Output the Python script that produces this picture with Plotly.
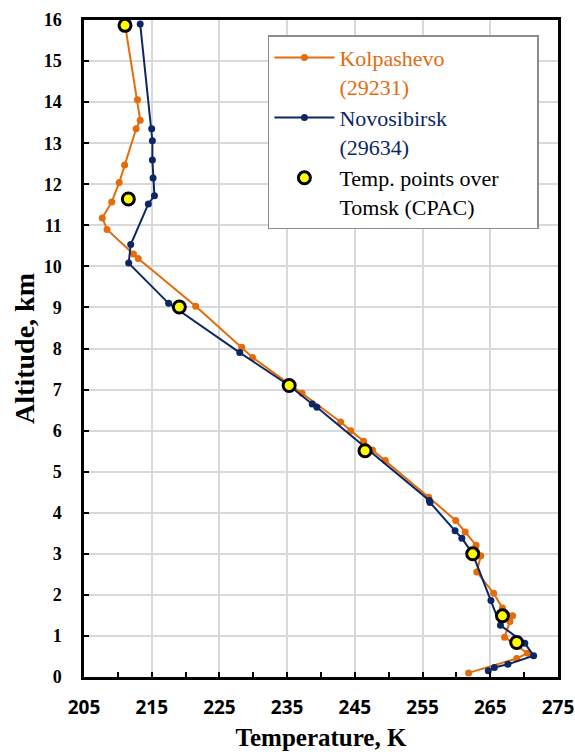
import plotly.graph_objects as go

# ---- data ----
kolp_T = [211.0, 212.9, 213.3, 212.7, 211.0, 210.2, 209.1, 207.7, 208.4, 212.3, 213.0,
          221.5, 228.3, 229.9, 237.2, 242.9, 244.4, 246.3, 247.6, 249.5, 255.9, 259.9,
          261.3, 262.9, 263.6, 263.0, 265.5, 266.8, 268.3, 267.9, 267.1, 270.5, 268.9, 261.8]
kolp_alt = [15.95, 14.06, 13.56, 13.35, 12.47, 12.04, 11.57, 11.18, 10.90, 10.30, 10.19,
            9.03, 8.03, 7.78, 6.91, 6.21, 6.00, 5.74, 5.53, 5.27, 4.38, 3.81,
            3.53, 3.21, 2.95, 2.56, 2.04, 1.68, 1.49, 1.35, 0.97, 0.58, 0.45, 0.10]

novo_T = [213.3, 215.0, 215.1, 215.1, 215.2, 215.4, 214.5, 211.9, 211.6, 217.5, 228.0,
          235.3, 238.7, 239.4, 256.0, 256.1, 259.8, 260.8, 262.4, 265.1, 266.5, 270.1,
          271.4, 267.6, 265.6, 264.7]
novo_alt = [15.90, 13.35, 13.06, 12.59, 12.15, 11.72, 11.52, 10.53, 10.08, 9.10, 7.90,
            7.10, 6.65, 6.57, 4.30, 4.25, 3.56, 3.38, 3.00, 1.86, 1.26, 0.82,
            0.52, 0.31, 0.23, 0.15]

cpac_T = [211.06, 211.55, 219.08, 235.3, 246.5, 262.4, 266.8, 268.9]
cpac_alt = [15.87, 11.64, 9.01, 7.10, 5.51, 3.00, 1.49, 0.84]

x_ticks = [205, 215, 225, 235, 245, 255, 265, 275]
y_ticks = list(range(0, 17))

ORANGE = "#E46C0A"
NAVY = "#0C2764"
SERIF = "Liberation Serif"
PAD = "&nbsp;" * 6

fig = go.Figure()
fig.add_trace(go.Scatter(
    x=kolp_T, y=kolp_alt, mode="lines+markers",
    name=f"<span style='color:{ORANGE}'>Kolpashevo<br>(29231)</span>",
    line=dict(color=ORANGE, width=2), marker=dict(size=7, color=ORANGE)))
fig.add_trace(go.Scatter(
    x=novo_T, y=novo_alt, mode="lines+markers",
    name=f"<span style='color:{NAVY}'>Novosibirsk<br>(29634)</span>",
    line=dict(color=NAVY, width=2), marker=dict(size=7, color=NAVY)))
fig.add_trace(go.Scatter(
    x=cpac_T, y=cpac_alt, mode="markers",
    name="Temp. points over" + PAD + "<br>Tomsk (CPAC)",
    marker=dict(size=12, color="#FFFF00", line=dict(color="black", width=3))))

fig.update_layout(
    width=575, height=754,
    margin=dict(l=84, r=17, t=20, b=77),
    paper_bgcolor="white", plot_bgcolor="white",
    showlegend=True,
    legend=dict(
        x=0.388, y=0.977, xanchor="left", yanchor="top",
        bgcolor="white", bordercolor="#8C8C8C", borderwidth=1.5,
        font=dict(family=SERIF, size=22, color="black"),
        valign="top", tracegroupgap=0, itemwidth=60,
    ),
)

fig.update_xaxes(
    range=[205, 275], tickvals=x_ticks, ticktext=[str(v) for v in x_ticks],
    ticks="inside", ticklen=5, tickwidth=1.5, tickcolor="black",
    minor=dict(dtick=5, tick0=205, ticks="inside", ticklen=5, tickwidth=1.5,
               tickcolor="black", showgrid=False),
    showgrid=True, gridcolor="#D9D9D9", gridwidth=1.5,
    showline=True, linecolor="black", linewidth=2.5, mirror=True,
    tickfont=dict(family="Open Sans", size=19, color="black", weight="bold"),
    ticklabelstandoff=11, automargin=False,
    title=dict(text="<b>Temperature, K</b>",
               font=dict(family=SERIF, size=25, color="black"), standoff=10),
    zeroline=False,
)
fig.update_yaxes(
    range=[0, 16], tickvals=y_ticks, ticktext=[str(v) for v in y_ticks],
    ticks="inside", ticklen=5, tickwidth=1.5, tickcolor="black",
    showgrid=True, gridcolor="#D9D9D9", gridwidth=1.5,
    showline=True, linecolor="black", linewidth=2.5, mirror=True,
    tickfont=dict(family=SERIF, size=18, color="black", weight="bold"),
    ticklabelstandoff=16, automargin=False,
    title=dict(text="<b>Altitude, km</b>",
               font=dict(family=SERIF, size=28, color="black"), standoff=1),
    zeroline=False,
)

fig.write_html("out.html")
